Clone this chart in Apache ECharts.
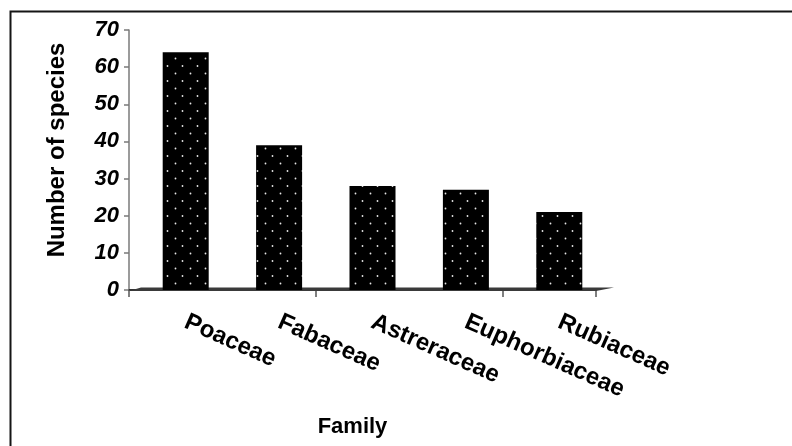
<!DOCTYPE html>
<html>
<head>
<meta charset="utf-8">
<script src="https://cdn.jsdelivr.net/npm/echarts@6/dist/echarts.min.js"></script>
<style>
  html, body { margin: 0; padding: 0; background: #fff; }
  #chart { width: 792px; height: 446px; }
</style>
</head>
<body>
<div id="chart"></div>
<script>
// Species count per plant family
const families = ['Poaceae', 'Fabaceae', 'Astreraceae', 'Euphorbiaceae', 'Rubiaceae'];
const speciesCounts = [64, 39, 28, 27, 21];
const yTicks = [0, 10, 20, 30, 40, 50, 60, 70];

// Black fill with a staggered grid of light dots
function dottedPattern() {
  const c = document.createElement('canvas');
  c.width = 15; c.height = 15;
  const g = c.getContext('2d');
  g.fillStyle = '#000';
  g.fillRect(0, 0, 15, 15);
  g.fillStyle = '#e6e6e6';
  g.beginPath(); g.arc(10.5, 13.5, 0.9, 0, Math.PI * 2); g.fill();
  g.beginPath(); g.arc(2.5, 6, 0.9, 0, Math.PI * 2); g.fill();
  return c;
}

const FONT = 'Liberation Sans, Arial, sans-serif';
const chart = echarts.init(document.getElementById('chart'), null, { renderer: 'canvas' });

const gridBox = { top: 30, height: 260, width: 467, outerBoundsMode: 'none', containLabel: false };

chart.setOption({
  animation: false,
  backgroundColor: '#fff',
  grid: [
    Object.assign({ left: 129 }, gridBox),
    Object.assign({ left: 139 }, gridBox)
  ],
  xAxis: [
    {
      type: 'category', gridIndex: 0, data: families,
      axisLine: { lineStyle: { color: '#333', width: 2 } },
      axisTick: { show: true, length: 7, lineStyle: { color: '#555', width: 1.5 } },
      axisLabel: { show: false },
      name: 'Family', nameLocation: 'middle', nameGap: 126, nameMoveOverlap: false,
      nameTextStyle: { fontFamily: FONT, fontWeight: 'bold', fontSize: 22, color: '#000', padding: [0, 20, 0, 0] }
    },
    {
      type: 'category', gridIndex: 1, data: families,
      axisLine: { show: false }, axisTick: { show: false },
      axisLabel: {
        rotate: -24, margin: 31,
        fontFamily: FONT, fontWeight: 'bold', fontSize: 24, color: '#000'
      }
    }
  ],
  yAxis: [
    {
      type: 'value', gridIndex: 0, min: yTicks[0], max: yTicks[yTicks.length - 1], interval: 10,
      splitLine: { show: false },
      axisLine: { show: true, lineStyle: { color: '#7a7a7a', width: 1.5 } },
      axisTick: { show: true, length: 5, lineStyle: { color: '#7a7a7a', width: 1.5 } },
      axisLabel: {
        margin: 10, fontFamily: FONT, fontWeight: 'bold', fontStyle: 'italic', fontSize: 22, color: '#000'
      },
      name: 'Number of species', nameLocation: 'middle', nameGap: 60, nameRotate: 90, nameMoveOverlap: false,
      nameTextStyle: { fontFamily: FONT, fontWeight: 'bold', fontSize: 24, color: '#000', padding: [0, 0, 0, 20] }
    },
    {
      type: 'value', gridIndex: 1, min: yTicks[0], max: yTicks[yTicks.length - 1], interval: 10,
      show: false, splitLine: { show: false }
    }
  ],
  series: [
    {
      // thin floor plane under the bars
      type: 'custom', xAxisIndex: 0, yAxisIndex: 0, data: [[0, 0]], silent: true, z: 1,
      renderItem: function (params, api) {
        const band = api.size([1, 0])[0];
        const p0 = api.coord([0, 0]);
        const p1 = api.coord([families.length - 1, 0]);
        const left = p0[0] - band / 2;
        const right = p1[0] + band / 2;
        const y = p0[1];
        return {
          type: 'polygon',
          shape: { points: [[left, y + 1], [left + 12, y - 2.5], [right + 18, y - 2.5], [right, y + 1]] },
          style: { fill: '#3a3a3a' }
        };
      }
    },
    {
      type: 'bar', xAxisIndex: 1, yAxisIndex: 1, data: speciesCounts, barWidth: 46, z: 3,
      itemStyle: { color: { image: dottedPattern(), repeat: 'repeat' } }
    }
  ],
  graphic: [
    {
      type: 'rect', left: 8, top: 9, silent: true, z: 100,
      shape: { width: 820, height: 470 },
      style: { fill: 'none', stroke: '#151515', lineWidth: 2 }
    }
  ]
});
</script>
</body>
</html>
